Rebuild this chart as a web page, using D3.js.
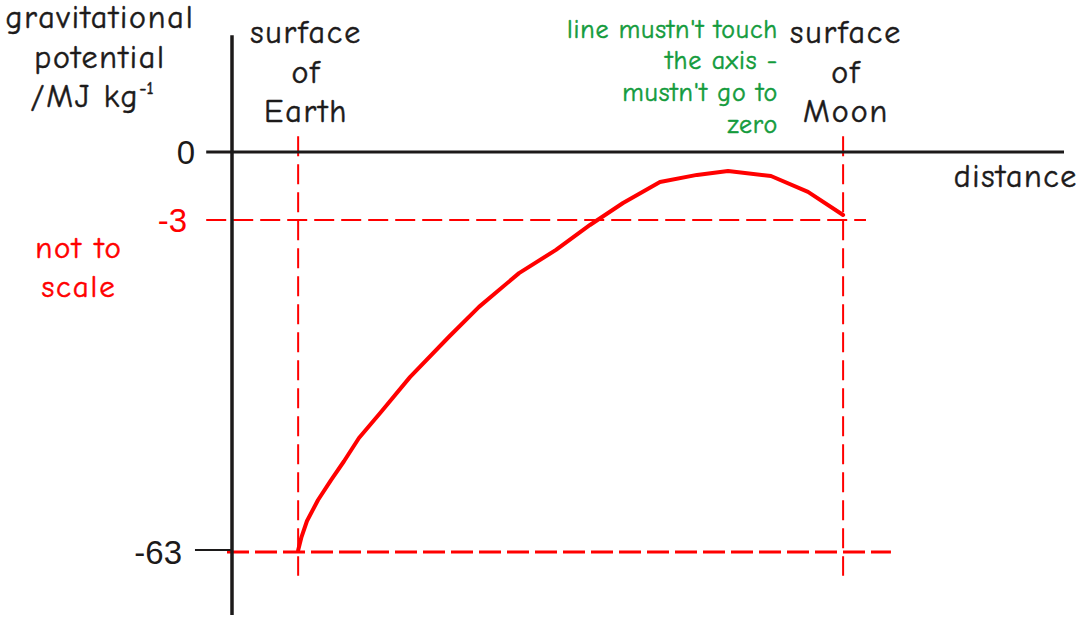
<!DOCTYPE html>
<html>
<head>
<meta charset="utf-8">
<script src="https://cdn.jsdelivr.net/npm/d3@7/dist/d3.min.js"></script>
<style>
  html, body { margin: 0; padding: 0; background: #ffffff; }
  svg { display: block; }
</style>
</head>
<body>
<svg id="chart" width="1079" height="618"></svg>
<script>
// ---------------- data ----------------
// distance in arbitrary units (not to scale)
const distance = [7.95, 8.35, 9.01, 10.34, 11.9, 13.46, 15.26, 17.91, 21.39, 26.08, 29.69,
                  34.5, 38.94, 43.03, 47.0, 51.44, 55.89, 59.62, 64.78, 69.23, 73.45];
// gravitational potential / MJ kg^-1
const potential = [-62.7, -60.3, -57.4, -53.6, -50.0, -46.6, -42.4, -37.7, -31.4, -24.1, -18.7,
                   -12.6, -8.4, -3.9, -2.25, -1.32, -1.01, -0.84, -1.06, -1.76, -2.78];
const earthSurface = 7.95;
const moonSurface = 73.45;
const tickValues = [0, -3, -63];
const tickLabels = ["0", "-3", "-63"];
const yTitle = ["gravitational", "potential", "/MJ kg"];
const earthLabel = ["surface", "of", "Earth"];
const moonLabel = ["surface", "of", "Moon"];
const xTitle = "distance";
const scaleNote = ["not to", "scale"];
const greenNote = ["line mustn't touch", "the axis -", "mustn't go to", "zero"];

// ---------------- layout ----------------
const W = 1079, H = 618;
const BLACK = "#1c1a1a", RED = "#ff0000", GREEN = "#139b3c";
const FONT = "'Comic Sans MS', 'Comic Neue', 'DejaVu Sans', sans-serif";
const NUMFONT = "'Liberation Sans', Arial, sans-serif";

const svg = d3.select("#chart");

const x = d3.scaleLinear().domain([0, 100]).range([232, 1064]);
// piecewise: the chart is explicitly "not to scale"
const y = d3.scaleLinear().domain([-63, -3, 0]).range([552, 220, 152]);

const xAxisStart = -3.1;   // axis line extends a little left of the y axis
const yAxisExtent = [5.15, -74.4];

// ---------------- dashed guide lines ----------------
const g = svg.append("g");

// -63 horizontal
g.append("line")
  .attr("x1", x(-0.6)).attr("x2", x(79.2))
  .attr("y1", y(-63)).attr("y2", y(-63))
  .attr("stroke", RED).attr("stroke-width", 3)
  .attr("stroke-dasharray", "22,6");

// -3 horizontal
g.append("line")
  .attr("x1", x(xAxisStart)).attr("x2", x(76.2))
  .attr("y1", y(-3)).attr("y2", y(-3))
  .attr("stroke", RED).attr("stroke-width", 2)
  .attr("stroke-dasharray", "20,7");

// vertical surfaces
[earthSurface, moonSurface].forEach(d => {
  g.append("line")
    .attr("x1", x(d)).attr("x2", x(d))
    .attr("y1", y(0.7)).attr("y2", y(-67.3))
    .attr("stroke", RED).attr("stroke-width", 2)
    .attr("stroke-dasharray", "20,8");
});

// ---------------- axes ----------------
// x axis (zero line)
g.append("line")
  .attr("x1", x(xAxisStart)).attr("x2", x(100))
  .attr("y1", y(0)).attr("y2", y(0))
  .attr("stroke", BLACK).attr("stroke-width", 3);

// y axis
g.append("line")
  .attr("x1", x(0)).attr("x2", x(0))
  .attr("y1", y(yAxisExtent[0])).attr("y2", y(yAxisExtent[1]))
  .attr("stroke", BLACK).attr("stroke-width", 3.5);

// -63 tick
g.append("line")
  .attr("x1", x(-4.45)).attr("x2", x(0))
  .attr("y1", y(-63) - 2).attr("y2", y(-63) - 2)
  .attr("stroke", BLACK).attr("stroke-width", 2);

// tick labels
const tickPad = [37, 45, 50];
const tickColor = [BLACK, RED, BLACK];
g.selectAll("text.tick").data(tickValues).join("text")
  .attr("class", "tick")
  .attr("x", (d, i) => x(0) - tickPad[i])
  .attr("y", d => y(d))
  .attr("dy", "0.35em")
  .attr("text-anchor", "end")
  .attr("font-family", NUMFONT)
  .attr("font-size", 33)
  .attr("fill", (d, i) => tickColor[i])
  .text((d, i) => tickLabels[i]);

// ---------------- curve ----------------
const pts = distance.map((d, i) => [d, potential[i]]);
g.append("path")
  .datum(pts)
  .attr("fill", "none")
  .attr("stroke", RED)
  .attr("stroke-width", 4)
  .attr("stroke-linejoin", "round")
  .attr("stroke-linecap", "round")
  .attr("d", d3.line().x(d => x(d[0])).y(d => y(d[1])).curve(d3.curveLinear));

// ---------------- texts ----------------
function block(lines, cx, baseline0, step, size, color, anchor, ls) {
  const t = svg.append("text")
    .attr("font-family", FONT)
    .attr("font-size", size)
    .attr("letter-spacing", ls)
    .attr("fill", color)
    .attr("stroke", color)
    .attr("stroke-width", 0.5)
    .attr("text-anchor", anchor || "middle");
  lines.forEach((s, i) => {
    t.append("tspan").attr("x", cx).attr("y", baseline0 + i * step).text(s);
  });
  return t;
}

// y title
const yt = block(yTitle, 100, 28, 39.5, 32, BLACK, "middle", 1.8);
yt.selectAll("tspan").filter((d, i) => i === 2).attr("x", 92);
yt.append("tspan")
  .attr("dy", -13).attr("font-size", 18).attr("letter-spacing", 0).text("-1");

// surface labels
block(earthLabel, x(earthSurface) + 8, 43, 39.5, 32, BLACK, "middle", 1.9);
block(moonLabel, x(moonSurface) + 3, 43, 39.5, 32, BLACK, "middle", 1.9);

// x title
svg.append("text")
  .attr("x", 1078).attr("y", 187)
  .attr("text-anchor", "end")
  .attr("font-family", FONT).attr("font-size", 32)
  .attr("letter-spacing", 1.6)
  .attr("fill", BLACK)
  .attr("stroke", BLACK).attr("stroke-width", 0.5)
  .text(xTitle);

// not to scale
block(scaleNote, 79, 258, 39, 31, RED, "middle", 1.8);

// green note
block(greenNote, 778, 37.5, 31.7, 26, GREEN, "end", 0.8);
</script>
</body>
</html>
